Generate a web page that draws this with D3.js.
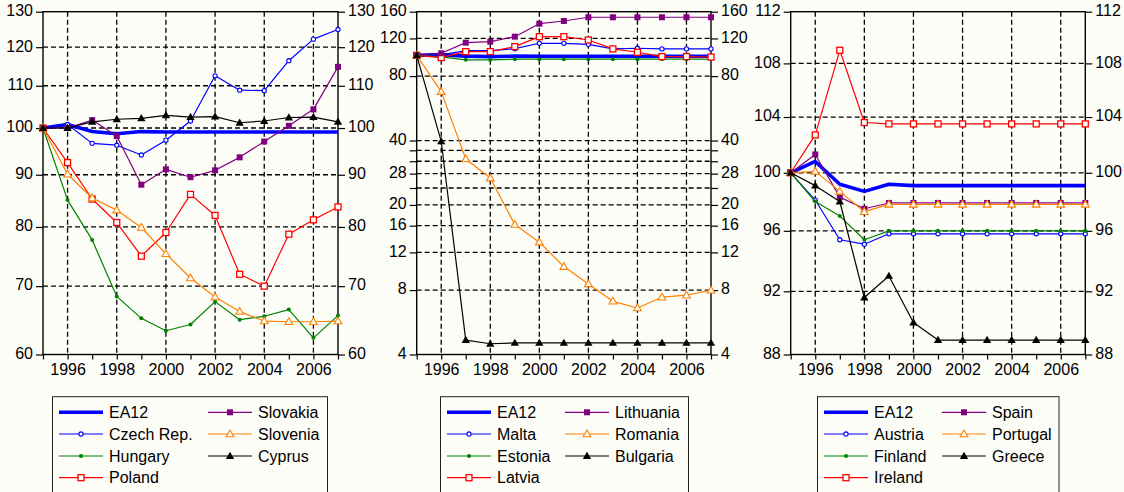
<!DOCTYPE html>
<html><head><meta charset="utf-8">
<script src="https://cdn.jsdelivr.net/npm/d3@7"></script>
<style>
html,body{margin:0;padding:0;background:#fdfdf8;}
svg{display:block;font-family:"Liberation Sans",Arial,sans-serif;}
</style></head>
<body>
<svg id="chart" width="1124" height="492"></svg>
<script>
// ---------- data ----------
const years = [1995,1996,1997,1998,1999,2000,2001,2002,2003,2004,2005,2006,2007];
const yearLabels = [1996,1998,2000,2002,2004,2006];

const ea12      = [100,100.8,99.2,98.7,99.2,99.1,99.1,99.1,99.1,99.1,99.1,99.1,99.1];

// panel 1
const czech     = [100,100.8,96.6,96.2,94.1,97.3,101.6,112.5,108.9,108.8,116.4,122.2,124.9];
const hungary   = [100,85.0,77.7,68.4,65.1,63.3,64.2,67.6,64.9,65.4,66.4,62.3,65.5];
const poland    = [100,92.5,85.2,80.8,74.9,79.0,86.1,82.1,71.9,70.0,78.7,81.3,83.7];
const slovakia  = [100,100,101.8,98.2,88.0,91.1,89.5,90.9,93.6,97.0,100.5,104.3,114.8];
const slovenia  = [100,90.1,85.4,83.1,79.9,75.3,71.3,68.3,66.1,64.7,64.6,64.6,64.7];
const cyprus    = [100,100,101.4,102.0,102.2,102.9,102.5,102.6,101.2,101.6,102.4,102.5,101.4];

// panel 2
const malta     = [100,100.5,105.2,105.2,107.5,113.9,113.9,112.6,107.2,108.0,107.2,107.2,107.2];
const estonia   = [100,98.5,95.3,95.3,96,96,96,96,96,96,96,96,96];
const latvia    = [100,97.6,104.1,104.1,109.9,122.3,122.3,118.0,107.2,103.4,98.7,98.7,98.2];
const lithuania = [100,102.3,114.7,115.9,122.3,140.6,144.8,150.7,150.7,150.7,150.7,150.7,150.7];
const romania   = [100,67.7,32.8,26.7,16.2,13.4,10.3,8.55,7.09,6.6,7.41,7.57,7.99];
const bulgaria  = [100,39.6,4.67,4.49,4.53,4.53,4.53,4.53,4.53,4.53,4.53,4.53,4.53];

// panel 3
const austria   = [100,98.1,95.4,95.1,95.8,95.8,95.8,95.8,95.8,95.8,95.8,95.8,95.8];
const finland   = [100,98.0,97.0,95.4,96.0,96.0,96.0,96.0,96.0,96.0,96.0,96.0,96.0];
const ireland   = [100,102.7,109.0,103.6,103.5,103.5,103.5,103.5,103.5,103.5,103.5,103.5,103.5];
const spain     = [100,101.3,98.3,97.5,97.9,97.9,97.9,97.9,97.9,97.9,97.9,97.9,97.9];
const portugal  = [100,100.1,98.7,97.3,97.8,97.8,97.8,97.8,97.8,97.8,97.8,97.8,97.8];
const greece    = [100,99.1,98.0,91.6,93.0,90.0,88.9,88.9,88.9,88.9,88.9,88.9,88.9];

// axis ticks
const p1Domain = [60,130], p1Grid = [60,70,80,90,100,110,120,130], p1Labels = [60,70,80,90,100,110,120,130];
const p2Domain = [4,160],  p2Grid = [4,8,12,16,20,24,28,32,36,40,80,120,160], p2Labels = [4,8,12,16,20,28,40,80,120,160];
const p3Domain = [88,112], p3Grid = [88,92,96,100,104,108,112], p3Labels = [88,92,96,100,104,108,112];

// ---------- styles ----------
const styles = {
  ea12:   {color:"#0000ff", width:3.6, marker:null},
  ocirc:  {color:"#0000ff", width:1.2, marker:"ocircle"},
  fdot:   {color:"#008000", width:1.2, marker:"dot"},
  osq:    {color:"#ff0000", width:1.2, marker:"osquare"},
  fsq:    {color:"#800080", width:1.2, marker:"fsquare"},
  otri:   {color:"#ff8000", width:1.2, marker:"otriangle"},
  ftri:   {color:"#000000", width:1.2, marker:"ftriangle"}
};

const panels = [
  {x0:43, x1:338, domain:p1Domain, grid:p1Grid, labels:p1Labels,
   series:[["EA12",ea12,"ea12"],["Czech Rep.",czech,"ocirc"],["Hungary",hungary,"fdot"],["Poland",poland,"osq"],
           ["Slovakia",slovakia,"fsq"],["Slovenia",slovenia,"otri"],["Cyprus",cyprus,"ftri"]],
   legend:{x0:52.5, x1:327.5, c1:59, c2:208}},
  {x0:416.7, x1:711, domain:p2Domain, grid:p2Grid, labels:p2Labels,
   series:[["EA12",ea12,"ea12"],["Malta",malta,"ocirc"],["Estonia",estonia,"fdot"],["Latvia",latvia,"osq"],
           ["Lithuania",lithuania,"fsq"],["Romania",romania,"otri"],["Bulgaria",bulgaria,"ftri"]],
   legend:{x0:440.5, x1:688.5, c1:447, c2:565}},
  {x0:790.7, x1:1085.3, domain:p3Domain, grid:p3Grid, labels:p3Labels,
   series:[["EA12",ea12,"ea12"],["Austria",austria,"ocirc"],["Finland",finland,"fdot"],["Ireland",ireland,"osq"],
           ["Spain",spain,"fsq"],["Portugal",portugal,"otri"],["Greece",greece,"ftri"]],
   legend:{x0:817.5, x1:1059, c1:824, c2:942}}
];

const svg = d3.select("#chart");
const bg = "#fdfdf8";
const yTop = 11.7, yBot = 354.5;

function drawMarker(g, type, x, y, color){
  if(!type) return;
  if(type==="ocircle"){
    g.append("circle").attr("cx",x).attr("cy",y).attr("r",2.1).attr("fill",bg).attr("stroke",color).attr("stroke-width",1.1);
  } else if(type==="dot"){
    g.append("circle").attr("cx",x).attr("cy",y).attr("r",2).attr("fill",color);
  } else if(type==="osquare"){
    g.append("rect").attr("x",x-3).attr("y",y-3).attr("width",6).attr("height",6).attr("fill",bg).attr("stroke",color).attr("stroke-width",1.3);
  } else if(type==="fsquare"){
    g.append("rect").attr("x",x-3).attr("y",y-3).attr("width",6).attr("height",6).attr("fill",color);
  } else if(type==="otriangle"){
    g.append("path").attr("d",d3.symbol(d3.symbolTriangle,26)()).attr("transform",`translate(${x},${y+0.5})`)
      .attr("fill",bg).attr("stroke",color).attr("stroke-width",1.1);
  } else if(type==="ftriangle"){
    g.append("path").attr("d",d3.symbol(d3.symbolTriangle,30)()).attr("transform",`translate(${x},${y+0.5})`)
      .attr("fill",color);
  }
}

panels.forEach(p=>{
  const x = d3.scaleLinear().domain([1995,2007]).range([p.x0,p.x1]);
  const y = d3.scaleLog().domain(p.domain).range([yBot,yTop]);
  const g = svg.append("g");

  // gridlines
  g.selectAll(".hg").data(p.grid.filter(v=>v>p.domain[0]&&v<p.domain[1])).enter().append("line")
    .attr("x1",p.x0).attr("x2",p.x1).attr("y1",d=>y(d)).attr("y2",d=>y(d))
    .attr("stroke","#000").attr("stroke-width",1.3).attr("stroke-dasharray","5,3");
  g.selectAll(".vg").data(yearLabels).enter().append("line")
    .attr("x1",d=>x(d)).attr("x2",d=>x(d)).attr("y1",yTop).attr("y2",yBot)
    .attr("stroke","#000").attr("stroke-width",1.3).attr("stroke-dasharray","5,3");

  // axes
  const left = d3.axisLeft(y).tickValues(p.grid).tickSize(7).tickPadding(3)
    .tickFormat(d=>p.labels.includes(d)?d:"");
  const right = d3.axisRight(y).tickValues(p.grid).tickSize(7).tickPadding(3)
    .tickFormat(d=>p.labels.includes(d)?d:"");
  const bottom = d3.axisBottom(x).tickValues(years).tickSize(5).tickPadding(4)
    .tickFormat(d=>yearLabels.includes(d)?d:"");
  [[left,`translate(${p.x0},0)`],[right,`translate(${p.x1},0)`],[bottom,`translate(0,${yBot})`]].forEach(([ax,tr])=>{
    const a = g.append("g").attr("transform",tr).call(ax);
    a.select(".domain").remove();
    a.selectAll("line").attr("stroke","#000").attr("stroke-width",1.2);
    a.selectAll("text").attr("font-size",16).attr("fill","#000").attr("font-family","'Liberation Sans',Arial,sans-serif");
  });
  g.selectAll(".tick text").filter(function(){return this.parentNode.parentNode.getAttribute("transform").includes(",0)");})
    .attr("dy","0.24em");

  // frame
  g.append("rect").attr("x",p.x0).attr("y",yTop).attr("width",p.x1-p.x0).attr("height",yBot-yTop)
    .attr("fill","none").attr("stroke","#000").attr("stroke-width",1.4);

  // series
  const line = d3.line().x((d,i)=>x(years[i])).y(d=>y(d));
  p.series.forEach(([name,vals,st])=>{
    const s = styles[st];
    const sg = g.append("g");
    sg.append("path").datum(vals).attr("d",line).attr("fill","none").attr("stroke",s.color)
      .attr("stroke-width",s.width).attr("stroke-linejoin","round");
    vals.forEach((v,i)=>drawMarker(sg,s.marker,x(years[i]),y(v),s.color));
  });

  // legend
  const L = p.legend;
  const lg = svg.append("g");
  lg.append("rect").attr("x",L.x0).attr("y",396.7).attr("width",L.x1-L.x0).attr("height",120)
    .attr("fill","none").attr("stroke","#222").attr("stroke-width",1);
  const rows = [412.3,434,456,477.7];
  p.series.forEach(([name,vals,st],k)=>{
    const s = styles[st];
    const col = k<4?0:1, row = k<4?k:k-4;
    const lx = col===0?L.c1:L.c2, ly = rows[row];
    lg.append("line").attr("x1",lx).attr("x2",lx+44).attr("y1",ly).attr("y2",ly)
      .attr("stroke",s.color).attr("stroke-width",s.width===3.6?3.6:1.2);
    drawMarker(lg,s.marker,lx+22,ly,s.color);
    lg.append("text").attr("x",lx+50).attr("y",ly).attr("dy","0.35em").attr("font-size",16).attr("fill","#000").text(name);
  });
});
</script>
</body></html>
